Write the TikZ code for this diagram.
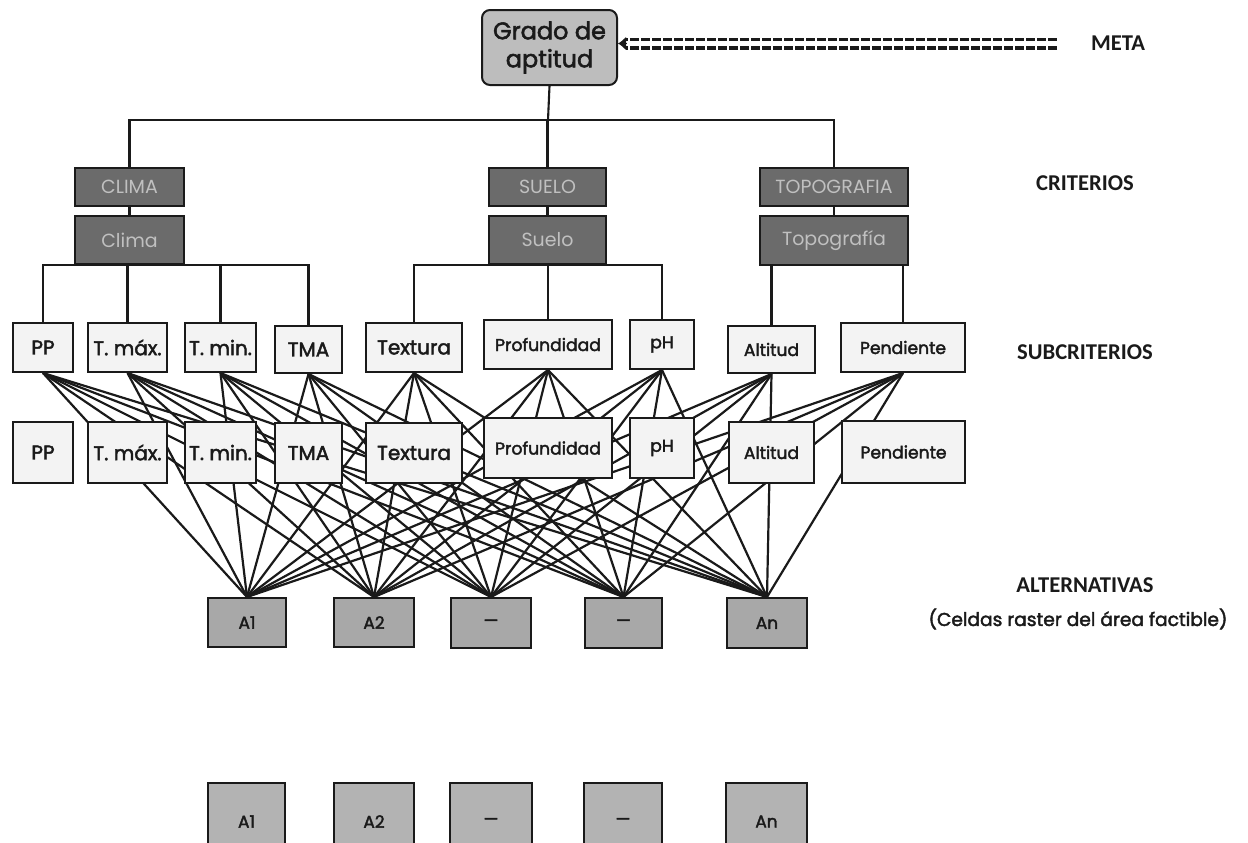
\documentclass[tikz,border=0pt]{standalone}
\usepackage{fontspec}
\setmainfont{Poppins}
\newfontfamily\popm{Poppins}[FakeBold=2.2]
\newfontfamily\carl{Carlito}
\usetikzlibrary{arrows.meta}
\definecolor{goalfill}{HTML}{BDBDBD}
\definecolor{critfill}{HTML}{6B6B6B}
\definecolor{crittext}{HTML}{C0C0C0}
\definecolor{subfill}{HTML}{F3F3F3}
\definecolor{altfill}{HTML}{A8A8A8}
\definecolor{altfillb}{HTML}{B3B3B3}
\definecolor{ink}{HTML}{1A1A1A}
\newcommand\mybox[7]{%
  \pgfmathsetmacro\bxw{(#5-#3)*0.5}%
  \pgfmathsetmacro\bxh{(#6-#4)*0.5}%
  \node[#2,minimum width=\bxw pt,minimum height=\bxh pt] (#1) at ({(#3+#5)/2},{(#4+#6)/2}) {#7};}
\tikzset{
  basebox/.style={draw=ink, line width=1pt, inner sep=0pt, align=center, text=ink},
  goalbox/.style={basebox, fill=goalfill, rounded corners=4pt, font=\popm\fontsize{12}{14}\selectfont},
  critbox/.style={basebox, fill=critfill, text=crittext, font=\fontsize{9.5}{11}\selectfont},
  subbox/.style={basebox, fill=subfill, font=\popm\fontsize{10}{12}\selectfont},
  subsm/.style={subbox, font=\popm\fontsize{8.6}{10}\selectfont},
  altbox/.style={basebox, fill=altfill, font=\popm\fontsize{8.5}{10}\selectfont},
  altboxb/.style={basebox, fill=altfillb, font=\popm\fontsize{8.5}{10}\selectfont},
  lab/.style={text=ink, font=\carl\bfseries\fontsize{11.3}{13}\selectfont},
  labp/.style={text=ink, font=\popm\fontsize{9.3}{11}\selectfont},
  tree/.style={draw=ink, line width=1.05pt},
  web/.style={draw=ink, line width=1.1pt},
  dbl/.style={draw=ink, line width=1.7pt, double=white, double distance=2.6pt, dash pattern=on 4.5pt off 1pt}
}
\begin{document}
\begin{tikzpicture}[x=0.5pt,y=-0.5pt]
\useasboundingbox (0,0) rectangle (1248,842);
\clip (0,0) rectangle (1248,842);
\fill[white] (0,0) rectangle (1248,842);

% goal
\mybox{goal}{goalbox}{482}{10}{617}{85}{Grado de\\aptitud}
% criteria
\mybox{c1}{critbox}{75}{168}{184}{206}{CLIMA}
\mybox{c2}{critbox}{489}{168}{606}{206}{SUELO}
\mybox{c3}{critbox}{760}{168}{908}{206}{TOPOGRAFIA}
\mybox{c1b}{critbox}{75}{216}{184}{264}{Clima}
\mybox{c2b}{critbox}{489}{216}{606}{264}{Suelo}
\mybox{c3b}{critbox}{760}{216}{908}{265}{Topografía}

% subcriteria top row
\mybox{s1}{subbox}{13}{323}{73}{372}{PP}
\mybox{s2}{subbox}{88}{323}{167}{372}{T. máx.}
\mybox{s3}{subbox}{185}{323}{256}{372}{T. min.}
\mybox{s4}{subbox}{275}{326}{342}{373}{TMA}
\mybox{s5}{subbox}{366}{323}{462}{372}{Textura}
\mybox{s6}{subsm}{484}{320}{612}{369}{Profundidad}
\mybox{s7}{subsm}{630}{320}{694}{369}{pH}
\mybox{s8}{subsm}{728}{326}{815}{373}{Altitud}
\mybox{s9}{subsm}{841}{323}{965}{372}{Pendiente}

% alternatives
\mybox{a1}{altbox}{208}{598}{286}{647}{A1}
\mybox{a2}{altbox}{334}{598}{414}{647}{A2}
\mybox{a3}{altbox}{451}{598}{531}{648}{—}
\mybox{a4}{altbox}{585}{598}{662}{648}{—}
\mybox{a5}{altbox}{727}{598}{807}{648}{An}

% web of connectors (behind the second row)
\foreach \s in {1,...,9}{
  \foreach \a in {1,...,5}{
    \draw[web] (s\s.south) -- (a\a.north);
  }
}

% second row of subcriteria
\mybox{r1}{subbox}{13}{422}{73}{483}{PP}
\mybox{r2}{subbox}{88}{422}{167}{483}{T. máx.}
\mybox{r3}{subbox}{185}{422}{256}{483}{T. min.}
\mybox{r4}{subbox}{275}{423}{342}{483}{TMA}
\mybox{r5}{subbox}{366}{423}{462}{483}{Textura}
\mybox{r6}{subsm}{484}{418}{612}{478}{Profundidad}
\mybox{r7}{subsm}{630}{418}{694}{478}{pH}
\mybox{r8}{subsm}{729}{422}{814}{483}{Altitud}
\mybox{r9}{subsm}{842}{421}{965}{483}{Pendiente}

% bottom alternatives
\mybox{b1}{altboxb}{208}{783}{285}{860}{A1}
\mybox{b2}{altboxb}{334}{783}{414}{860}{A2}
\mybox{b3}{altboxb}{450}{783}{532}{860}{—}
\mybox{b4}{altboxb}{584}{783}{662}{860}{—}
\mybox{b5}{altboxb}{726}{783}{807}{860}{An}

% tree
\coordinate (bus) at (548,120);
\draw[tree] (goal.south) -- (bus);
\draw[tree] (c1.north) -- (c1.north |- bus) -- (c3.north |- bus) -- (c3.north);
\draw[tree] (c2.north) -- (c2.north |- bus);
\draw[tree] (c1.south) -- (c1b.north);
\draw[tree] (c2.south) -- (c2b.north);
\draw[tree] (c3.south) -- (c3b.north);
\draw[tree] (s1.north) -- (s1.north |- c1b.south) -- (s4.north |- c1b.south) -- (s4.north);
\draw[tree] (s2.north) -- (s2.north |- c1b.south);
\draw[tree] (s3.north) -- (s3.north |- c1b.south);
\draw[tree] (s5.north) -- (s5.north |- c2b.south) -- (s7.north |- c2b.south) -- (s7.north);
\draw[tree] (s6.north) -- (s6.north |- c2b.south);
\draw[tree] (s8.north) -- (s8.north |- c3b.south);
\draw[tree] (s9.north) -- (s9.north |- c3b.south);

% meta connector
\coordinate (metaR) at (1057,43.5);
\draw[dbl] (metaR) -- ([xshift=4pt]goal.east |- metaR);
\draw[ink, line width=0.8pt, -{Latex[length=4pt,width=7pt]}] ([xshift=4.5pt]goal.east |- metaR) -- (goal.east |- metaR);

% labels
\node[lab] (lmeta) at (1118,43) {META};
\node[lab] (lcrit) at (1085,183) {CRITERIOS};
\node[lab] (lsub) at (1085,352) {SUBCRITERIOS};
\node[lab] (lalt) at (1085,585) {ALTERNATIVAS};
\node[labp] (lcel) at (1078,619) {(Celdas raster del área factible)};
\end{tikzpicture}
\end{document}
